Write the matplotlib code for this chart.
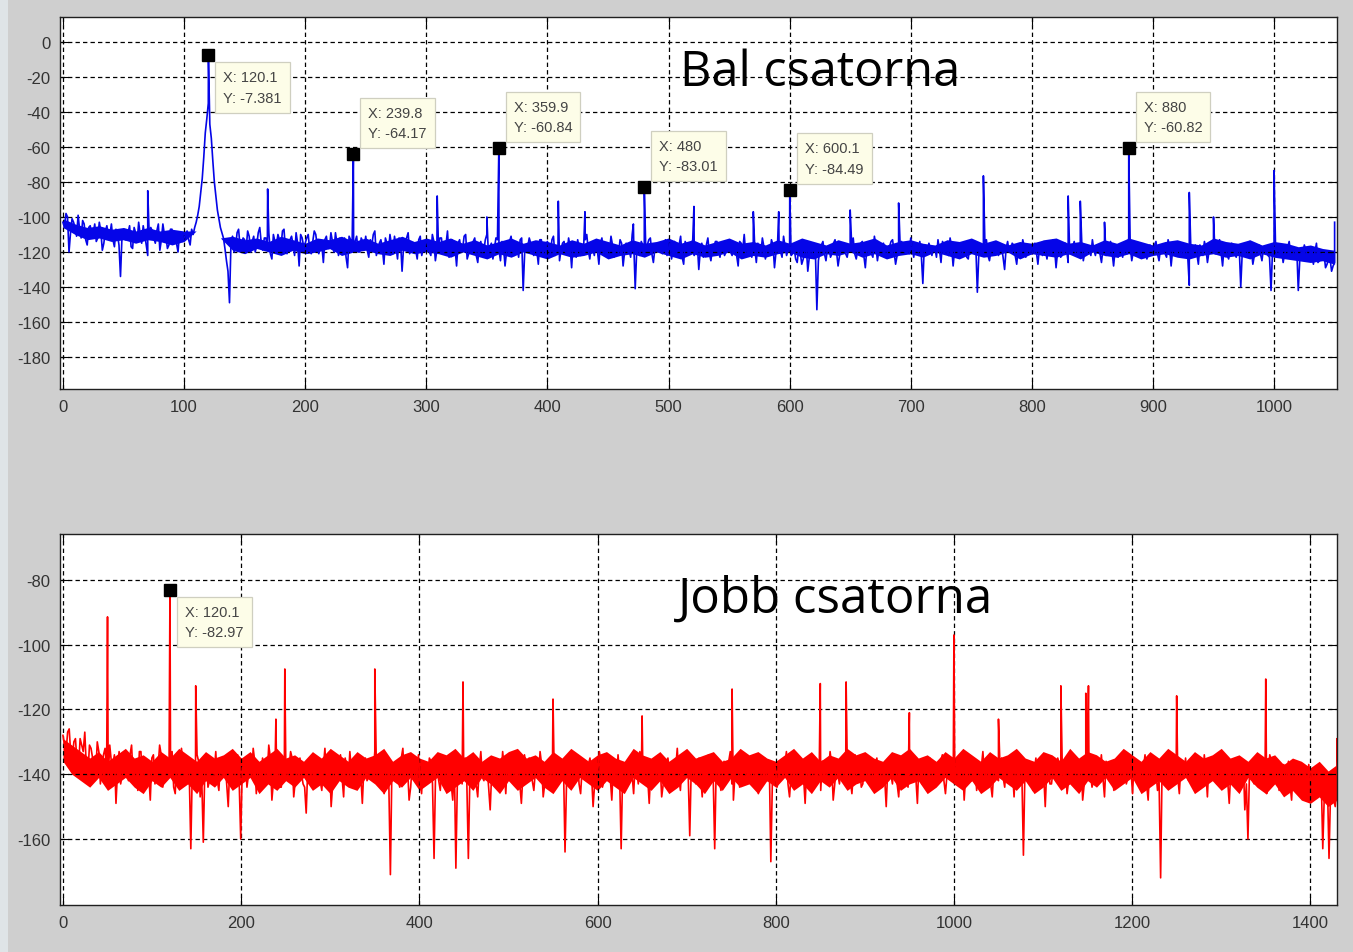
import numpy as np
import matplotlib
matplotlib.use('Agg')
import matplotlib.pyplot as plt
from matplotlib.patches import Rectangle

plt.rcParams['axes.unicode_minus'] = False

# --- left channel (top) ---
# noise floor read every 2.5 Hz, at x = 0, 2.5, 5, ...
top_step = 2.5
top_noise_a = [
    -103, -98, -120, -101, -106, -99, -112, -104, -116, -105, -109, -114, -103, -119, -108, -111, -104, -117, -110, -134,
    -107, -113, -105, -118, -109, -103, -115, -110, -122, -106, -112, -108, -119, -104, -111, -116, -107, -113, -120, -109,
    -112, -108, -116, -110, -103, -94, -78, -52, -35, -55, -80, -96, -106, -112, -125, -149, -111, -118, -107, -115,
    -113, -108, -120, -111, -116, -106, -119, -112, -109, -124, -114, -110, -117, -107, -121, -113, -116, -109, -128, -112,
    -115, -110, -121, -108, -117, -113, -126, -111, -118, -114, -109, -122, -116, -112, -129, -113, -118, -111, -120, -114,
    -111, -123, -116, -108, -119, -113, -127, -115, -110, -121, -117, -112, -131, -114, -109, -119, -116, -124, -111, -118,
    -113, -120, -110, -125, -116, -112, -119, -108, -122, -115, -128, -113, -118, -110, -121, -116, -112, -126, -114, -119,
    -110, -117, -124, -112, -119, -114, -128, -116, -111, -122, -117, -113, -142, -118, -112, -120, -115, -127, -113, -119,
    -114, -121, -111, -118, -125, -115, -120, -112, -129, -117, -113, -122, -116, -110, -124, -118, -114, -127, -112, -120,
    -116, -111, -123, -117, -113, -128, -115, -119, -110, -141, -118, -114, -122, -116, -112, -126, -119, -115, -121, -113,
    -118, -124, -114, -119, -111, -127, -116, -121, -113, -118, -130, -115, -120, -112, -125, -117, -114, -123, -116, -120,
    -113, -122, -117, -128, -115, -110, -121, -118, -114, -126, -119, -112, -124, -117, -113, -129, -116, -120, -111, -122,
    -115, -121, -124, -118, -127, -120, -131, -116, -122, -153, -119, -114, -125, -117, -121, -113, -128, -118, -115, -123,
    -117, -112, -124, -118, -114, -129, -116, -121, -111, -125, -119, -115, -122, -117, -113, -127, -118, -114, -120, -116,
    -112, -123, -117, -114, -138, -119, -115, -122, -118, -113, -126, -116, -120, -112, -128, -118, -115, -121, -117, -124,
    -114, -119, -143, -116, -121, -113, -125, -118, -115, -122, -117, -130, -114, -120, -116, -127, -119, -113, -123, -118,
    -121, -115, -127, -118, -114, -124, -119, -113, -129, -117, -122, -115, -126, -118, -114, -121, -117, -125, -116, -120,
    -113, -122, -118, -126, -115, -120, -114, -128, -119, -116, -123, -117, -112, -125, -120, -115, -121, -118, -124, -116,
    -119, -114, -125, -117, -121, -113, -128, -118, -115, -122, -116, -119, -139, -123, -116, -127, -118, -114, -126, -120,
    -116, -121, -113, -128, -118, -124, -115, -121, -119, -140, -117, -122, -114, -127, -120, -116, -125, -118, -122, -142,
    -115, -121, -117, -126, -119, -114, -124, -118, -142, -120, -116, -123, -119, -127, -115, -125, -121, -129, -124, -131,
    -126,
]
# in-between readings at x = 1.25, 3.75, 6.25, ...
top_noise_b = [
    -106, -100, -109, -103, -111, -107, -102, -113, -106, -110, -104, -112, -108, -115, -105, -110, -113, -107, -116, -111,
    -113, -109, -117, -106, -114, -110, -105, -116, -111, -108, -115, -104, -113, -110, -118, -107, -112, -115, -109, -114,
    -110, -113, -107, -106, -99, -86, -66, -44, -47, -68, -88, -101, -109, -118, -131, -114, -120, -109, -117, -112,
    -118, -111, -114, -120, -109, -115, -112, -117, -121, -110, -116, -113, -108, -119, -114, -111, -122, -115, -110, -117,
    -112, -119, -114, -110, -121, -116, -113, -118, -109, -120, -115, -112, -118, -123, -111, -116, -114, -120, -112, -117,
    -119, -113, -110, -122, -115, -118, -112, -120, -116, -111, -124, -114, -117, -112, -121, -115, -119, -113, -122, -116,
    -117, -122, -114, -119, -112, -121, -116, -123, -113, -118, -115, -120, -111, -124, -117, -114, -122, -116, -120, -113,
    -121, -115, -118, -113, -125, -117, -120, -114, -119, -116, -123, -112, -120, -117, -115, -122, -119, -113, -121, -116,
    -118, -113, -122, -116, -119, -114, -121, -117, -115, -123, -118, -120, -113, -119, -116, -122, -119, -115, -121, -117,
    -120, -116, -118, -121, -115, -120, -117, -123, -114, -119, -122, -116, -119, -113, -121, -118, -115, -120, -117, -122,
    -115, -119, -121, -116, -123, -114, -120, -117, -122, -115, -119, -123, -116, -121, -118, -114, -120, -117, -122, -115,
    -120, -117, -122, -114, -119, -121, -116, -123, -118, -115, -121, -117, -119, -122, -116, -120, -114, -123, -117, -119,
    -122, -118, -126, -120, -124, -117, -123, -121, -119, -125, -116, -121, -118, -123, -115, -120, -122, -116, -121, -118,
    -116, -121, -119, -115, -122, -118, -120, -123, -117, -119, -116, -121, -118, -114, -120, -122, -116, -119, -117, -121,
    -118, -115, -120, -122, -116, -121, -118, -117, -123, -119, -114, -120, -122, -117, -119, -116, -121, -118, -123, -116,
    -120, -117, -121, -118, -115, -122, -119, -121, -117, -116, -123, -118, -120, -115, -122, -118, -121, -117, -119, -121,
    -117, -120, -118, -122, -119, -116, -121, -118, -120, -123, -116, -119, -121, -117, -122, -119, -115, -120, -118, -122,
    -119, -116, -121, -118, -122, -117, -120, -119, -123, -118, -115, -121, -117, -120, -118, -122, -116, -119, -121, -118,
    -116, -121, -118, -120, -123, -117, -119, -122, -116, -120, -118, -123, -117, -119, -121, -116, -122, -118, -120, -117,
    -121, -118, -120, -117, -122, -119, -116, -123, -118, -120, -121, -117, -119, -122, -116, -121, -118, -120, -123, -119,
    -118, -122, -119, -121, -117, -123, -120, -118, -124, -121, -119, -125, -122, -120, -126, -123, -121, -127, -124, -128,
]
# solid core of the noise band, upper and lower edge read every 10 Hz
core_step = 10
top_core_hi = [
    -101, -104, -106, -105, -107, -106, -108, -106, -108, -107, -108,
    -108, -110, -112,
    -111, -113, -112, -114, -111, -113, -115, -112, -113, -111, -114, -112, -115, -113, -111, -114, -112,
    -114, -112, -115, -113, -116, -114, -112, -115, -113, -114,
    -116, -113, -115, -112, -114, -116, -113, -115, -114, -112,
    -115, -113, -116, -114, -112, -115, -114, -116, -113, -115,
    -112, -114, -116, -113, -115, -114, -112, -116, -114, -113,
    -115, -116, -113, -114, -112, -115, -113, -116, -114, -115,
    -113, -112, -115, -114, -116, -113, -115, -112, -114, -116,
    -114, -113, -115, -116, -112, -114, -115, -113, -116, -114,
    -115, -117, -116, -118, -119,
]
top_core_lo = [
    -106, -110, -113, -112, -114, -113, -115, -113, -114, -116, -114,
    -108, -110, -112,
    -119, -121, -118, -120, -122, -119, -121, -120, -118, -122, -120, -119, -121, -122, -119, -121, -120,
    -121, -123, -120, -122, -124, -121, -123, -120, -122, -124,
    -121, -123, -122, -120, -124, -122, -121, -123, -120, -122,
    -124, -121, -123, -122, -120, -124, -122, -123, -121, -120,
    -123, -124, -121, -122, -120, -123, -121, -124, -122, -121,
    -123, -120, -122, -124, -121, -123, -122, -120, -124, -121,
    -122, -123, -121, -124, -120, -122, -123, -121, -124, -122,
    -121, -123, -124, -122, -121, -123, -122, -124, -121, -123,
    -124, -125, -126, -125, -127,
]
# narrow spectral lines of the left channel
top_peak_x = [70, 120.1, 169, 239.8, 309, 350, 359.9, 409, 431, 471, 480, 521, 570, 591, 600.1,
              650, 690, 760, 830, 840, 860, 880, 930, 950, 1000, 1050]
top_peak_y = [-85, -7.381, -84, -64.17, -88, -100, -60.84, -91, -97, -104, -83.01, -94, -97, -97, -84.49,
              -96, -92, -76.5, -88, -91, -103, -60.82, -86, -100, -73.5, -103]

# --- right channel (bottom) ---
# noise floor read every 3.5 Hz, at x = 0, 3.5, 7, ...
bot_step = 3.5
bot_noise_a = [
    -128, -133, -126, -135, -129, -138, -131, -127, -140, -132, -136, -130, -143, -134, -139, -131, -137, -149, -133, -140,
    -135, -142, -131, -138, -145, -133, -140, -136, -148, -134, -139, -131, -144, -137, -141, -133, -146, -138, -132, -141,
    -136, -163, -139, -134, -147, -161, -135, -142, -138, -133, -145, -140, -136, -150, -137, -143, -134, -160, -139, -144,
    -137, -132, -146, -139, -135, -142, -131, -148, -138, -134, -144, -136, -141, -133, -147, -139, -135, -143, -152, -138,
    -134, -141, -137, -145, -132, -139, -150, -136, -142, -134, -147, -138, -133, -144, -140, -136, -149, -135, -141, -137,
    -133, -143, -138, -146, -135, -171, -140, -136, -144, -132, -139, -148, -137, -142, -134, -146, -138, -141, -136, -166,
    -139, -145, -136, -142, -134, -148, -169, -138, -143, -135, -166, -140, -137, -147, -133, -142, -138, -151, -136, -144,
    -138, -133, -146, -140, -135, -143, -137, -149, -134, -141, -136, -145, -139, -133, -147, -138, -142, -135, -144, -137,
    -141, -164, -136, -143, -139, -134, -146, -138, -142, -135, -150, -137, -133, -144, -139, -136, -148, -140, -134, -163,
    -137, -143, -135, -146, -139, -133, -142, -138, -149, -136, -141, -134, -147, -139, -135, -144, -137, -132, -145, -140,
    -136, -159, -138, -143, -135, -147, -139, -134, -141, -163, -137, -145, -136, -142, -133, -148, -138, -144, -135, -140,
    -137, -143, -134, -146, -139, -135, -142, -167, -138, -144, -136, -141, -133, -147, -139, -135, -143, -137, -149, -140,
    -134, -142, -137, -145, -136, -140, -133, -148, -138, -143, -135, -141, -137, -146, -134, -139, -144, -136, -142, -137,
    -145, -135, -141, -138, -150, -136, -143, -134, -147, -139, -137, -144, -133, -140, -149, -136, -142, -138, -135, -143,
    -137, -141, -134, -146, -138, -135, -143, -139, -136, -148, -134, -142, -137, -145, -139, -133, -141, -136, -147, -138,
    -142, -135, -144, -139, -136, -147, -140, -134, -165, -141, -137, -145, -135, -142, -138, -150, -136, -143, -139, -135,
    -141, -137, -146, -134, -143, -139, -136, -148, -140, -135, -144, -138, -142, -134, -147, -139, -137, -145, -136, -141,
    -138, -143, -135, -146, -139, -137, -142, -134, -148, -140, -136, -145, -172, -138, -143, -135, -141, -137, -146, -139,
    -135, -142, -138, -144, -136, -140, -134, -147, -139, -137, -143, -135, -141, -138, -149, -136, -142, -145, -139, -151,
    -160, -137, -143, -135, -141, -139, -146, -134, -140, -137, -145, -138, -142, -136, -148, -139, -137, -144, -140, -146,
    -141, -138, -147, -143, -163, -140, -166, -145, -150, -142,
]
# in-between readings at x = 1.75, 5.25, 8.75, ...
bot_noise_b = [
    -131, -127, -134, -130, -136, -129, -133, -138, -131, -135, -140, -133, -137, -132, -141, -136, -134, -139, -143, -135,
    -139, -134, -141, -136, -133, -142, -137, -140, -135, -143, -138, -134, -141, -136, -139, -144, -135, -140, -137, -142,
    -140, -137, -143, -136, -141, -138, -144, -135, -140, -142, -136, -139, -143, -137, -141, -135, -142, -138, -136, -140,
    -141, -136, -139, -143, -137, -140, -135, -142, -139, -144, -136, -141, -138, -135, -142, -137, -140, -144, -138, -141,
    -139, -135, -142, -138, -141, -136, -143, -140, -137, -141, -135, -142, -139, -143, -136, -140, -138, -142, -137, -140,
    -138, -141, -136, -140, -143, -137, -139, -142, -135, -141, -138, -144, -136, -140, -142, -137, -141, -135, -143, -139,
    -142, -137, -140, -138, -143, -136, -141, -139, -137, -142, -140, -135, -143, -138, -141, -137, -144, -139, -140, -136,
    -141, -138, -136, -142, -139, -137, -143, -140, -138, -135, -142, -139, -141, -137, -143, -136, -140, -138, -142, -139,
    -137, -142, -139, -140, -136, -143, -138, -141, -137, -140, -143, -139, -136, -142, -138, -141, -137, -143, -140, -138,
    -142, -138, -140, -137, -143, -139, -136, -141, -138, -142, -139, -137, -143, -136, -140, -142, -138, -141, -137, -139,
    -140, -137, -142, -139, -141, -136, -143, -138, -140, -137, -142, -139, -141, -136, -143, -140, -137, -142, -139, -141,
    -138, -141, -137, -143, -139, -140, -136, -142, -138, -141, -139, -137, -143, -140, -136, -142, -139, -141, -138, -140,
    -141, -138, -140, -136, -142, -139, -137, -143, -140, -138, -141, -136, -142, -139, -140, -137, -143, -138, -141, -139,
    -137, -142, -139, -141, -138, -140, -136, -143, -139, -137, -142, -140, -138, -141, -136, -143, -139, -140, -137, -142,
    -139, -136, -142, -140, -137, -141, -138, -143, -136, -140, -139, -142, -137, -141, -138, -140, -136, -143, -139, -141,
    -138, -141, -137, -142, -139, -136, -143, -140, -138, -141, -137, -139, -142, -136, -140, -138, -143, -139, -141, -137,
    -140, -138, -142, -137, -141, -139, -136, -143, -138, -140, -142, -137, -139, -141, -136, -142, -140, -138, -143, -139,
    -137, -141, -139, -136, -142, -140, -138, -143, -137, -141, -139, -142, -136, -140, -138, -143, -139, -141, -137, -140,
    -141, -138, -140, -143, -137, -142, -139, -136, -141, -138, -143, -140, -137, -142, -139, -141, -138, -140, -136, -143,
    -139, -142, -137, -141, -140, -138, -143, -136, -142, -139, -141, -137, -140, -143, -138, -141, -139, -142, -140, -137,
    -142, -139, -144, -141, -146, -143, -145, -148, -144,
]
bot_core_hi = [
    -129, -131, -133, -135, -133, -136, -134, -132, -135, -134,
    -136, -133, -135, -132, -134, -136, -133, -135, -134, -132,
    -135, -133, -136, -134, -132, -135, -134, -136, -133, -135,
    -132, -134, -136, -133, -135, -134, -132, -136, -134, -133,
    -135, -136, -133, -134, -132, -135, -133, -136, -134, -135,
    -133, -132, -135, -134, -136, -133, -135, -132, -134, -136,
    -134, -133, -135, -136, -132, -134, -135, -133, -136, -134,
    -132, -135, -134, -133, -136, -135, -132, -134, -133, -135,
    -136, -134, -132, -135, -133, -136, -134, -135, -132, -134,
    -133, -135, -136, -133, -134, -132, -135, -134, -136, -133,
    -135, -132, -134, -136, -133, -135, -134, -132, -135, -136,
    -133, -134, -136, -132, -135, -133, -134, -136, -135, -132,
    -134, -136, -133, -135, -132, -134, -136, -133, -135, -134,
    -132, -135, -134, -136, -133, -135, -134, -137, -135, -136,
    -138, -136, -139, -137,
]
bot_core_lo = [
    -136, -140, -142, -144, -141, -145, -143, -141, -144, -146,
    -142, -144, -141, -145, -143, -146, -142, -144, -141, -145,
    -143, -141, -146, -143, -145, -142, -144, -141, -145, -143,
    -146, -142, -144, -145, -141, -143, -146, -142, -144, -141,
    -145, -143, -141, -146, -144, -142, -145, -141, -143, -146,
    -142, -145, -143, -141, -144, -146, -142, -145, -141, -143,
    -145, -142, -144, -146, -141, -143, -145, -142, -146, -144,
    -141, -143, -146, -142, -145, -141, -144, -143, -146, -142,
    -144, -141, -145, -143, -146, -142, -144, -141, -145, -143,
    -142, -146, -144, -141, -145, -143, -142, -146, -144, -141,
    -143, -145, -142, -146, -144, -141, -143, -145, -142, -146,
    -144, -141, -145, -143, -146, -142, -144, -141, -145, -143,
    -141, -146, -144, -142, -145, -143, -141, -146, -144, -142,
    -145, -143, -146, -141, -144, -146, -143, -147, -145, -148,
    -149, -147, -150, -148,
]
bot_peak_x = [50, 120.1, 149, 239, 249, 350, 449, 550, 650, 751, 850, 879, 950, 1000, 1050,
              1120, 1148, 1151, 1250, 1350, 1430]
bot_peak_y = [-91.4, -82.97, -112.7, -123, -107.5, -107.5, -111.5, -116.8, -122, -113.7, -112, -111.5, -121, -97, -123,
              -112.7, -115, -112.7, -115.8, -110.6, -129]

# data tips: x, y, shown x, shown y, box below the marker?
top_tips = [(120.1, -7.381, '120.1', '-7.381', True),
            (239.8, -64.17, '239.8', '-64.17', False),
            (359.9, -60.84, '359.9', '-60.84', False),
            (480, -83.01, '480', '-83.01', False),
            (600.1, -84.49, '600.1', '-84.49', False),
            (880, -60.82, '880', '-60.82', False)]
bot_tips = [(120.1, -82.97, '120.1', '-82.97', True)]


def merge(step, a, b, px, py):
    xa = np.arange(len(a)) * step
    xb = np.arange(len(b)) * step + step / 2
    x = np.concatenate([xa, xb, px])
    y = np.concatenate([a, b, py]).astype(float)
    o = np.argsort(x, kind='stable')
    return x[o], y[o]


def style_axes(ax):
    ax.set_facecolor('white')
    ax.grid(True, color='black', linestyle=(0, (3.5, 2.5)), linewidth=0.9)
    ax.tick_params(direction='in', length=6, width=0.8, top=True, right=True,
                   labelsize=12, labelcolor='#333333', pad=7)
    for s in ax.spines.values():
        s.set_linewidth(1.0)
        s.set_color('#202020')
    for lab in ax.get_xticklabels() + ax.get_yticklabels():
        lab.set_family('Liberation Sans')


def add_tips(ax, tips):
    for x, y, lx, ly, below in tips:
        ax.plot([x], [y], 's', color='black', ms=8.5, zorder=5)
        if below:
            off, va = (15, -15), 'top'
        else:
            off, va = (15, 14), 'bottom'
        ax.annotate('X: %s \nY: %s' % (lx, ly), xy=(x, y), xytext=off,
                    textcoords='offset pixels', ha='left', va=va,
                    fontsize=10.5, family='Liberation Sans', color='#444444',
                    linespacing=1.6, zorder=6,
                    bbox=dict(boxstyle='square,pad=0.55', fc='#fdfde8', ec='#cfcfc0', lw=0.9))


fig = plt.figure(figsize=(13.53, 9.53), dpi=100)
fig.patch.set_facecolor('#cfcfcf')
fig.patches.append(Rectangle((0, 0), 0.006, 1, transform=fig.transFigure,
                             facecolor='#dfe4e7', edgecolor='none', zorder=0))

blue = '#0505e8'
red = '#ff0000'

ax1 = fig.add_axes([0.0443, 0.5908, 0.9439, 0.3903])
x1, y1 = merge(top_step, top_noise_a, top_noise_b, top_peak_x, top_peak_y)
ax1.fill_between(np.arange(len(top_core_hi)) * core_step, top_core_lo, top_core_hi, color=blue, lw=0)
ax1.plot(x1, y1, color=blue, lw=1.2)
ax1.set_xlim(-2.5, 1052)
ax1.set_ylim(-198.3, 14.3)
ax1.set_xticks(np.arange(0, 1001, 100))
ax1.set_yticks(np.arange(-180, 1, 20))
style_axes(ax1)
add_tips(ax1, top_tips)
ax1.text(0.4855, 0.817, 'Bal csatorna', transform=ax1.transAxes, fontsize=35,
         family='Open Sans', va='baseline', ha='left', color='black')

ax2 = fig.add_axes([0.0443, 0.0493, 0.9439, 0.3893])
x2, y2 = merge(bot_step, bot_noise_a, bot_noise_b, bot_peak_x, bot_peak_y)
ax2.fill_between(np.arange(len(bot_core_hi)) * core_step, bot_core_lo, bot_core_hi, color=red, lw=0)
ax2.plot(x2, y2, color=red, lw=1.2)
ax2.set_xlim(-3.4, 1430)
ax2.set_ylim(-180.4, -65.8)
ax2.set_xticks(np.arange(0, 1401, 200))
ax2.set_yticks(np.arange(-160, -79, 20))
style_axes(ax2)
add_tips(ax2, bot_tips)
ax2.text(0.4838, 0.79, 'Jobb csatorna', transform=ax2.transAxes, fontsize=35.5,
         family='Open Sans', va='baseline', ha='left', color='black')

fig.savefig('out.png', dpi=100, facecolor=fig.get_facecolor())
